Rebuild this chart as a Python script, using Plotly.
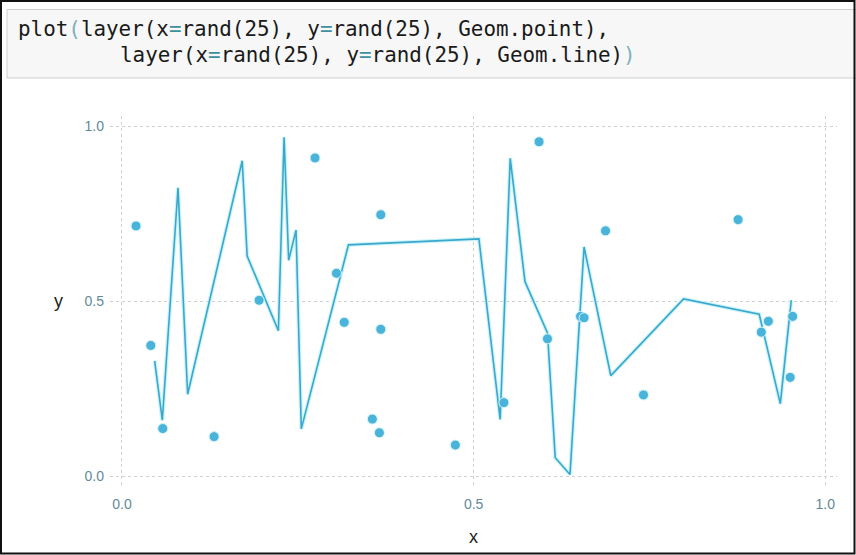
import plotly.graph_objects as go

# layer 1: Geom.point
pt_x = [0.020, 0.041, 0.058, 0.131, 0.195, 0.2745, 0.305, 0.316, 0.356, 0.366, 0.368, 0.368, 0.474,
        0.543, 0.593, 0.605, 0.652, 0.657, 0.6875, 0.7415, 0.876, 0.909, 0.919, 0.950, 0.9535]
pt_y = [0.715, 0.374, 0.137, 0.114, 0.503, 0.909, 0.580, 0.440, 0.164, 0.125, 0.747, 0.420, 0.090,
        0.211, 0.955, 0.393, 0.457, 0.453, 0.701, 0.233, 0.733, 0.412, 0.443, 0.283, 0.457]

# layer 2: Geom.line
line_x = [0.0465, 0.0574, 0.0797, 0.0934, 0.171, 0.178, 0.2224, 0.2305, 0.237, 0.2475, 0.255, 0.322,
          0.5075, 0.5377, 0.552, 0.573, 0.605, 0.616, 0.637, 0.657, 0.695, 0.7985, 0.906, 0.936, 0.9516]
line_y = [0.330, 0.161, 0.824, 0.235, 0.901, 0.629, 0.416, 0.968, 0.617, 0.703, 0.136, 0.661,
          0.678, 0.163, 0.908, 0.556, 0.410, 0.054, 0.006, 0.655, 0.288, 0.507, 0.463, 0.208, 0.503]

tick_vals = [0.0, 0.5, 1.0]
tick_text = ["0.0", "0.5", "1.0"]

W, H = 856, 555
L, R, T, B = 110, 837, 116, 487   # plot panel in pixels


def px_x(px):
    return (px - L) / (R - L)


def px_y(py):
    return (B - py) / (B - T)


col = "#4ab3d9"
fig = go.Figure()
# soft halo under the line, then the line itself
fig.add_trace(go.Scatter(x=line_x, y=line_y, mode="lines",
                         line=dict(color="#cdf3fa", width=4), hoverinfo="skip"))
fig.add_trace(go.Scatter(x=line_x, y=line_y, mode="lines",
                         line=dict(color="#3aa8cb", width=1.6)))
fig.add_trace(go.Scatter(x=pt_x, y=pt_y, mode="markers",
                         marker=dict(color=col, size=10, line=dict(color="#d6f5fb", width=1))))

eq = '<span style="color:#3f8f9f">=</span>'
br = '<span style="color:#7fb0bd">{}</span>'
line1 = ("plot" + br.format("(") + "layer(x" + eq + "rand(25), y" + eq
         + "rand(25), Geom.point),")
line2 = ("layer(x" + eq + "rand(25), y" + eq + "rand(25), Geom.line)" + br.format(")"))

code_font = dict(family="DejaVu Sans Mono", size=20.9, color="#1a1a1a")
annotations = [
    dict(text=line1, x=px_x(16), y=px_y(29), xanchor="left", yanchor="middle"),
    dict(text=line2, x=px_x(118), y=px_y(55.3), xanchor="left", yanchor="middle"),
]
for a in annotations:
    a.update(xref="paper", yref="paper", showarrow=False, font=code_font)

annotations += [
    dict(text="x", x=px_x(473), y=px_y(536.5), xref="paper", yref="paper", showarrow=False,
         xanchor="center", yanchor="middle",
         font=dict(family="Liberation Sans", size=18, color="#222222")),
    dict(text="y", x=px_x(58), y=px_y(300.5), xref="paper", yref="paper", showarrow=False,
         xanchor="center", yanchor="middle",
         font=dict(family="Liberation Sans", size=18, color="#222222")),
]

shapes = [
    # code cell box
    dict(type="rect", xref="paper", yref="paper", x0=px_x(7), x1=px_x(880),
         y0=px_y(78), y1=px_y(9.5), fillcolor="#f7f7f7", line=dict(color="#cfcfcf", width=1),
         layer="below"),
    # screenshot frame
    dict(type="rect", xref="paper", yref="paper", x0=px_x(1), x1=px_x(854.5),
         y0=px_y(553.5), y1=px_y(1), line=dict(color="#111111", width=2)),
]

axis_common = dict(
    tickvals=tick_vals, ticktext=tick_text, showgrid=True, gridcolor="#d0d0d0",
    gridwidth=1, griddash="3px,3px", zeroline=False, showline=False, ticks="",
    tickfont=dict(family="Liberation Sans", size=14, color="#5f8a9a"),
)

fig.update_layout(
    width=W, height=H,
    margin=dict(l=L, r=W - R, t=T, b=H - B),
    paper_bgcolor="white", plot_bgcolor="white",
    showlegend=False,
    xaxis=dict(range=[-0.017, 1.0166], ticklabelstandoff=7, **axis_common),
    yaxis=dict(range=[-0.0297, 1.0286], ticklabelstandoff=5, **axis_common),
    annotations=annotations,
    shapes=shapes,
)

# page body has a default 8px margin; drop it so the figure sits at the corner
fig.write_html("out.html", config={"displayModeBar": False},
               post_script="document.body.style.margin='0';")
